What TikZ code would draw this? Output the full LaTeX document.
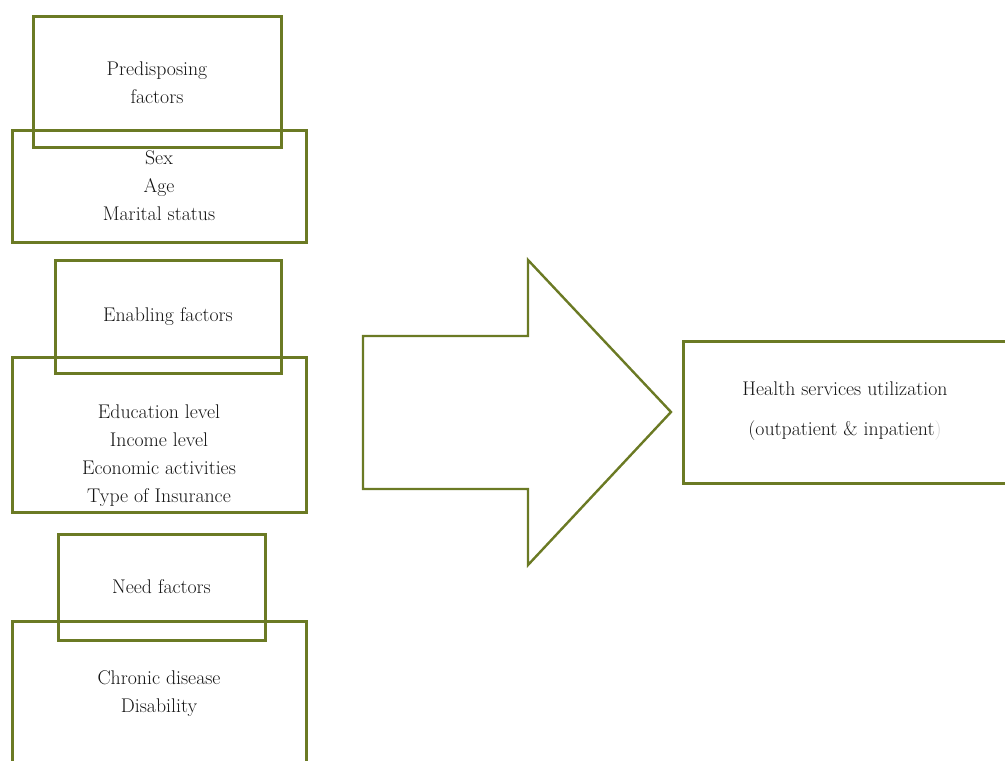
\documentclass[tikz,border=0pt]{standalone}
\usepackage{fontspec}
\setmainfont{Latin Modern Roman}
\definecolor{boxgreen}{RGB}{107,122,36}
\definecolor{txt}{RGB}{20,20,20}
\begin{document}
\begin{tikzpicture}[x=1pt,y=-1pt,
  box/.style={draw=boxgreen, line width=3pt, inner sep=0pt, outer sep=0pt},
  lbl/.style={align=center, text=txt, inner sep=0pt, font=\fontsize{19.8}{28}\selectfont},
  arrowline/.style={draw=boxgreen, line width=2.4pt, line join=miter}]
\useasboundingbox (0,0) rectangle (1005,761);
\clip (0,0) rectangle (1005,761);
% Predisposing
\node[box, minimum width=248pt, minimum height=131pt] (pre) at (157,81.5) {};
\node[box, minimum width=294pt, minimum height=112pt] (prelist) at (159,186) {};
\node[lbl] (pretxt) at (157,83) {Predisposing\\factors};
\node[lbl] (prelisttxt) at (159,186) {Sex\\Age\\Marital status};
% Enabling
\node[box, minimum width=226pt, minimum height=113pt] (ena) at (168,316.5) {};
\node[box, minimum width=294pt, minimum height=155pt] (enalist) at (159,434.5) {};
\node[lbl] (enatxt) at (168,317) {Enabling factors};
\node[lbl] (enalisttxt) at (159,455.5) {Education level\\Income level\\Economic activities\\Type of Insurance};
% Need
\node[box, minimum width=207pt, minimum height=106pt] (need) at (161.5,587) {};
\node[box, minimum width=294pt, minimum height=180pt] (needlist) at (159,711) {};
\node[lbl] (needtxt) at (161.5,587) {Need factors};
\node[lbl] (needlisttxt) at (159,694) {Chronic disease\\Disability};
% Big arrow
\draw[arrowline] (363,336) -- (528,336) -- (528,260) -- (671,412) -- (528,565) -- (528,489) -- (363,489) -- cycle;
% Outcome
\node[box, minimum width=340pt, minimum height=142pt] (out) at (853,412) {};
\node[lbl, font=\fontsize{19.8}{40}\selectfont] (outtxt) at (845,411) {Health services utilization\\(outpatient \& inpatient\textcolor{gray!35}{)}};
\end{tikzpicture}
\end{document}
